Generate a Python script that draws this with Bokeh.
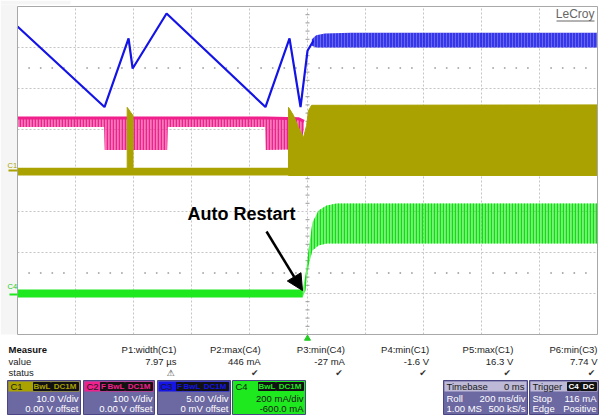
import numpy as np
from bokeh.plotting import figure
from bokeh.models import Range1d, Label, Arrow, NormalHead
from bokeh.core.properties import value
from bokeh.embed import file_html
from bokeh.resources import INLINE

# ---- acquisition settings ----
MS_PER_DIV = 200.0
C1_V_PER_DIV = 10.0
C2_V_PER_DIV = 100.0
C3_V_PER_DIV = 5.0
C4_MA_PER_DIV = 200.0
C4_OFFSET_MA = -600.0

# C3 (blue, V): supply ramps during hiccup, then regulated rail after restart
c3_t = [-1000, -700, -617, -603, -486, -145, -62, -24, 0, 21]
c3_v = [17.56, 7.74, 16.1, 12.44, 19.15, 7.74, 16.1, 7.74, 14.6, 15.85]
c3_ripple_t = [15, 30, 60, 150, 1000]
c3_ripple_hi = [16.0, 16.5, 16.7, 16.8, 16.8]
c3_ripple_lo = [15.2, 15.0, 15.0, 15.0, 15.0]

# C2 (pink, V): drain envelope, burst while attempting to start
c2_t = [-1000, -701, -699, -484, -482, -146, -144, -30, -12]
c2_hi = [128, 128, 128, 128, 128, 128, 128, 126, 120]
c2_lo = [106, 106, 50, 50, 106, 106, 50, 52, 100]

# C1 (olive, V): idle band, start spike, switching band after restart
c1_idle_t = [-1000, 1000]
c1_idle_lo = [-1.2, -1.2]
c1_idle_hi = [0.7, 0.7]
c1_spike_t = [-621.7, -621.7, -610, -601.7, -601.7]
c1_spike_v = [0, 15.4, 14.2, 13.4, 0]
c1_run_t = [-65.5, -65.5, -48, -31, -14, -3, 3.4, 14, 1000, 1000]
c1_run_v = [-1.2, 15.4, 13.4, 10.5, 8.0, 11.0, 14.6, 15.9, 16.0, -1.2]

# C4 (green, mA): load current, idle then restart
c4_idle_t = [-1000, -17]
c4_idle_lo = [-20, -20]
c4_idle_hi = [20, 20]
c4_t = [-17, -7, 3.4, 17, 38, 66, 100, 1000]
c4_hi = [20, 88, 210, 346, 405, 429, 439, 439]
c4_lo = [-20, 15, 137, 210, 234, 244, 244, 244]

# measurement table
meas_names = ["P1:width(C1)", "P2:max(C4)", "P3:min(C4)", "P4:min(C1)", "P5:max(C1)", "P6:min(C3)"]
meas_values = ["7.97 \u00b5s", "446 mA", "-27 mA", "-1.6 V", "16.3 V", "7.74 V"]
meas_status = ["\u26a0", "\u2714", "\u2714", "\u2714", "\u2714", "\u2714"]

# channel descriptors
chan_names = ["C1", "C2", "C3", "C4"]
chan_scale = ["10.0 V/div", "100 V/div", "5.00 V/div", "200 mA/div"]
chan_offset = ["0.00 V offset", "0.00 V offset", "0 mV offset", "-600.0 mA"]
chan_tags = [["BwL", "DC1M"], ["F", "BwL", "DC1M"], ["F", "BwL", "DC1M"], ["BwL", "DC1M"]]

COL_C1 = "#aaa200"
COL_C2 = "#f0208c"
COL_C3 = "#1414e6"
COL_C4 = "#1ee81e"
FONT = "Liberation Sans"

# ---- screen geometry (pixels) ----
W, H = 599, 416
GX0, GX1, GY0, GY1 = 17, 597, 6, 334      # graticule box
NDIV_X, NDIV_Y = 10, 8


def div_x(px):
    return (px - GX0) * NDIV_X / (GX1 - GX0) - NDIV_X / 2


def div_y(py):
    return NDIV_Y / 2 - (py - GY0) * NDIV_Y / (GY1 - GY0)


def chan_range(per_div, offset=0.0):
    return Range1d(div_y(H) * per_div - offset, div_y(0) * per_div - offset)


p = figure(width=W, height=H, title=None,
           x_range=Range1d(div_x(0) * MS_PER_DIV, div_x(W) * MS_PER_DIV),
           y_range=chan_range(C1_V_PER_DIV),
           x_axis_type=None, y_axis_type=None, output_backend="svg",
           toolbar_location=None, min_border=0,
           background_fill_color="white", border_fill_color="white", outline_line_color=None)
p.xgrid.visible = False
p.ygrid.visible = False
p.extra_y_ranges = {
    "c2": chan_range(C2_V_PER_DIV),
    "c3": chan_range(C3_V_PER_DIV),
    "c4": chan_range(C4_MA_PER_DIV, C4_OFFSET_MA),
    "py": Range1d(H, 0),
}
p.extra_x_ranges = {"px": Range1d(0, W)}
PX = dict(x_range_name="px", y_range_name="py")

T0, T1 = -NDIV_X / 2 * MS_PER_DIV, NDIV_X / 2 * MS_PER_DIV
V0, V1 = -NDIV_Y / 2 * C1_V_PER_DIV, NDIV_Y / 2 * C1_V_PER_DIV

# left margin and top strip shading
p.quad(left=[0], right=[GX0], top=[GY0 - 2], bottom=[GY1], fill_color="#f5f5f5", line_color=None, **PX)
p.quad(left=[0], right=[70], top=[0], bottom=[GY0 - 2], fill_color="#f5f5f5", line_color=None, **PX)

# graticule
gt = np.arange(T0 + MS_PER_DIV, T1, MS_PER_DIV)
gv = np.arange(V0 + C1_V_PER_DIV, V1, C1_V_PER_DIV)
p.segment(x0=gt, x1=gt, y0=[V0] * len(gt), y1=[V1] * len(gt), line_color="#c4c4c4",
          line_dash="2 2", line_width=1)
p.segment(x0=[T0] * len(gv), x1=[T1] * len(gv), y0=gv, y1=gv, line_color="#c4c4c4",
          line_dash="2 2", line_width=1)
minor_t = [t for t in np.arange(T0, T1 + 1, MS_PER_DIV / 5) if abs(t % MS_PER_DIV) > 1e-6]
for yv in (2.5 * C1_V_PER_DIV, -2.5 * C1_V_PER_DIV):
    p.scatter(minor_t, [yv] * len(minor_t), marker="square", size=1.6, color="#9a9a9a", line_color=None)
minor_v = [v for v in np.arange(V0, V1 + 0.1, C1_V_PER_DIV / 5) if abs(v % C1_V_PER_DIV) > 1e-6]
half = 2 * MS_PER_DIV * NDIV_X / (GX1 - GX0)
p.segment(x0=[-half] * len(minor_v), x1=[half] * len(minor_v), y0=minor_v, y1=minor_v,
          line_color="#9a9a9a", line_width=1)

# C2 pink
p.varea(x=c2_t, y1=c2_lo, y2=c2_hi, y_range_name="c2", fill_color=COL_C2, fill_alpha=0.6,
        hatch_pattern="vertical_line", hatch_color=COL_C2, hatch_scale=3, hatch_weight=1.5, hatch_alpha=1.0)
p.line(c2_t, c2_hi, y_range_name="c2", line_color=COL_C2, line_width=3)

# C3 blue
p.line(c3_t, c3_v, y_range_name="c3", line_color=COL_C3, line_width=2.2)
p.varea(x=c3_ripple_t, y1=c3_ripple_lo, y2=c3_ripple_hi, y_range_name="c3", fill_color=COL_C3,
        fill_alpha=0.85, hatch_pattern="vertical_line", hatch_color="white", hatch_scale=3,
        hatch_weight=0.8, hatch_alpha=0.3)

# C1 olive
p.varea(x=c1_idle_t, y1=c1_idle_lo, y2=c1_idle_hi, fill_color=COL_C1)
p.patch(c1_spike_t, c1_spike_v, fill_color=COL_C1, line_color=COL_C1, line_width=1)
p.patch(c1_run_t, c1_run_v, fill_color=COL_C1, line_color=COL_C1, line_width=1)

# C4 green
p.varea(x=c4_idle_t, y1=c4_idle_lo, y2=c4_idle_hi, y_range_name="c4", fill_color=COL_C4)
p.varea(x=c4_t, y1=c4_lo, y2=c4_hi, y_range_name="c4", fill_color=COL_C4, fill_alpha=0.6,
        hatch_pattern="vertical_line", hatch_color="#10dd10", hatch_scale=3, hatch_weight=1.3)

# graticule frame
p.quad(left=[T0], right=[T1], bottom=[V0], top=[V1], fill_color=None, line_color="#a8a8a8",
       line_width=1)

# annotation
X_PX = lambda px: div_x(px) * MS_PER_DIV
Y_PX = lambda py: div_y(py) * C1_V_PER_DIV
p.add_layout(Label(x=X_PX(187), y=Y_PX(213), text="Auto Restart", text_font=FONT,
                   text_font_style="bold", text_font_size="18px", text_color="black",
                   text_baseline="middle"))
p.add_layout(Arrow(x_start=X_PX(266), y_start=Y_PX(231), x_end=X_PX(302), y_end=Y_PX(290),
                   line_width=2.5, line_color="black",
                   end=NormalHead(size=16, fill_color="black", line_color="black")))

# brand mark
p.text(x=[594], y=[13.5], text=["LeCroy"], text_font=value(FONT), text_font_size="12px",
       text_color="#666666", text_align="right", text_baseline="middle", **PX)
p.segment(x0=[556], x1=[594], y0=[20.5], y1=[20.5], line_color="#666666", line_width=1, **PX)

# channel ground markers in left margin
p.text(x=[7, 7], y=[165, 286], text=["C1", "C4"], text_color=[COL_C1, "#22cc22"],
       text_font=value(FONT), text_font_size="7.5px", text_baseline="middle", **PX)
p.segment(x0=[8, 9], x1=[17, 17], y0=[170, 294], y1=[170, 294],
          line_color=[COL_C1, COL_C4], line_width=2, **PX)

# ---- measurement / descriptor panel (pixel coordinates) ----
p.scatter([GX0 + (GX1 - GX0) / 2], [338], marker="triangle", size=6, color="#22cc22", **PX)

col_right = [176 + 84.2 * i for i in range(6)]
txt = dict(text_font=value(FONT), text_font_size="9.5px", text_baseline="middle")
p.text(x=[8], y=[349], text=["Measure"], text_color="#111111", text_font_style="bold", **txt, **PX)
p.text(x=[8, 8], y=[360.5, 372], text=["value", "status"], text_color="#222222", **txt, **PX)
p.text(x=col_right, y=[349] * 6, text=meas_names, text_color="#222222", text_align="right", **txt, **PX)
p.text(x=col_right, y=[360.5] * 6, text=meas_values, text_color="#222222", text_align="right", **txt, **PX)
p.text(x=[c - 6 for c in col_right], y=[372] * 6, text=meas_status, text_color="#333333",
       text_align="center", text_font=value("DejaVu Sans"), text_font_size="9px",
       text_baseline="middle", **PX)

BODY = "#6c68a2"
EDGE = "#4a4684"
TAG_W = {"F": 6, "BwL": 17, "DC1M": 27, "C4": 12, "DC": 16}
BOX_TOP, HEAD_BOT, BOX_BOT = 380, 391, 414


def draw_tags(tags, right, colour):
    x = right
    for tg in reversed(tags):
        w = TAG_W[tg]
        p.quad(left=[x - w], right=[x], top=[382], bottom=[390], fill_color="#111111",
               line_color="#111111", **PX)
        p.text(x=[x - w / 2], y=[386], text=[tg], text_color=colour, text_align="center",
               text_font=value(FONT), text_font_size="8px", text_font_style="bold",
               text_baseline="middle", **PX)
        x -= w + 1


def draw_box(x0, x1, head_col, body_col, text_col, head_txt, head_right, tags, tag_col,
             l1, r1, l2, r2):
    p.quad(left=[x0], right=[x1], top=[BOX_TOP], bottom=[BOX_BOT], fill_color=body_col,
           line_color=EDGE, line_width=1, **PX)
    p.quad(left=[x0 + 1], right=[x1 - 1], top=[BOX_TOP + 1], bottom=[HEAD_BOT], fill_color=head_col,
           line_color=None, **PX)
    p.text(x=[x0 + 3], y=[386], text=[head_txt], text_color="#1a1a1a", **txt, **PX)
    if head_right:
        p.text(x=[x1 - 3], y=[386], text=[head_right], text_color="#1a1a1a", text_align="right",
               **txt, **PX)
    if tags:
        draw_tags(tags, x1 - 2, tag_col)
    p.text(x=[x0 + 3, x0 + 3], y=[397.5, 408], text=[l1, l2], text_color=text_col, **txt, **PX)
    p.text(x=[x1 - 2, x1 - 2], y=[397.5, 408], text=[r1, r2], text_color=text_col,
           text_align="right", **txt, **PX)


box_x = [(7, 80), (83, 154), (157, 230), (232, 305)]
head_cols = [COL_C1, COL_C2, COL_C3, COL_C4]
for i in range(4):
    x0, x1 = box_x[i]
    body = COL_C4 if i == 3 else BODY
    tcol = "#1a1a1a" if i == 3 else "white"
    draw_box(x0, x1, head_cols[i], body, tcol, chan_names[i], None, chan_tags[i], head_cols[i],
             "", chan_scale[i], "", chan_offset[i])

draw_box(443, 527, "#bdb9d6", BODY, "white", "Timebase", "0 ms", None, None,
         "Roll", "200 ms/div", "1.00 MS", "500 kS/s")
draw_box(529, 598, "#bdb9d6", BODY, "white", "Trigger", None, ["C4", "DC"], "white",
         "Stop", "116 mA", "Edge", "Positive")

open("out.html", "w").write(file_html(p, INLINE))
